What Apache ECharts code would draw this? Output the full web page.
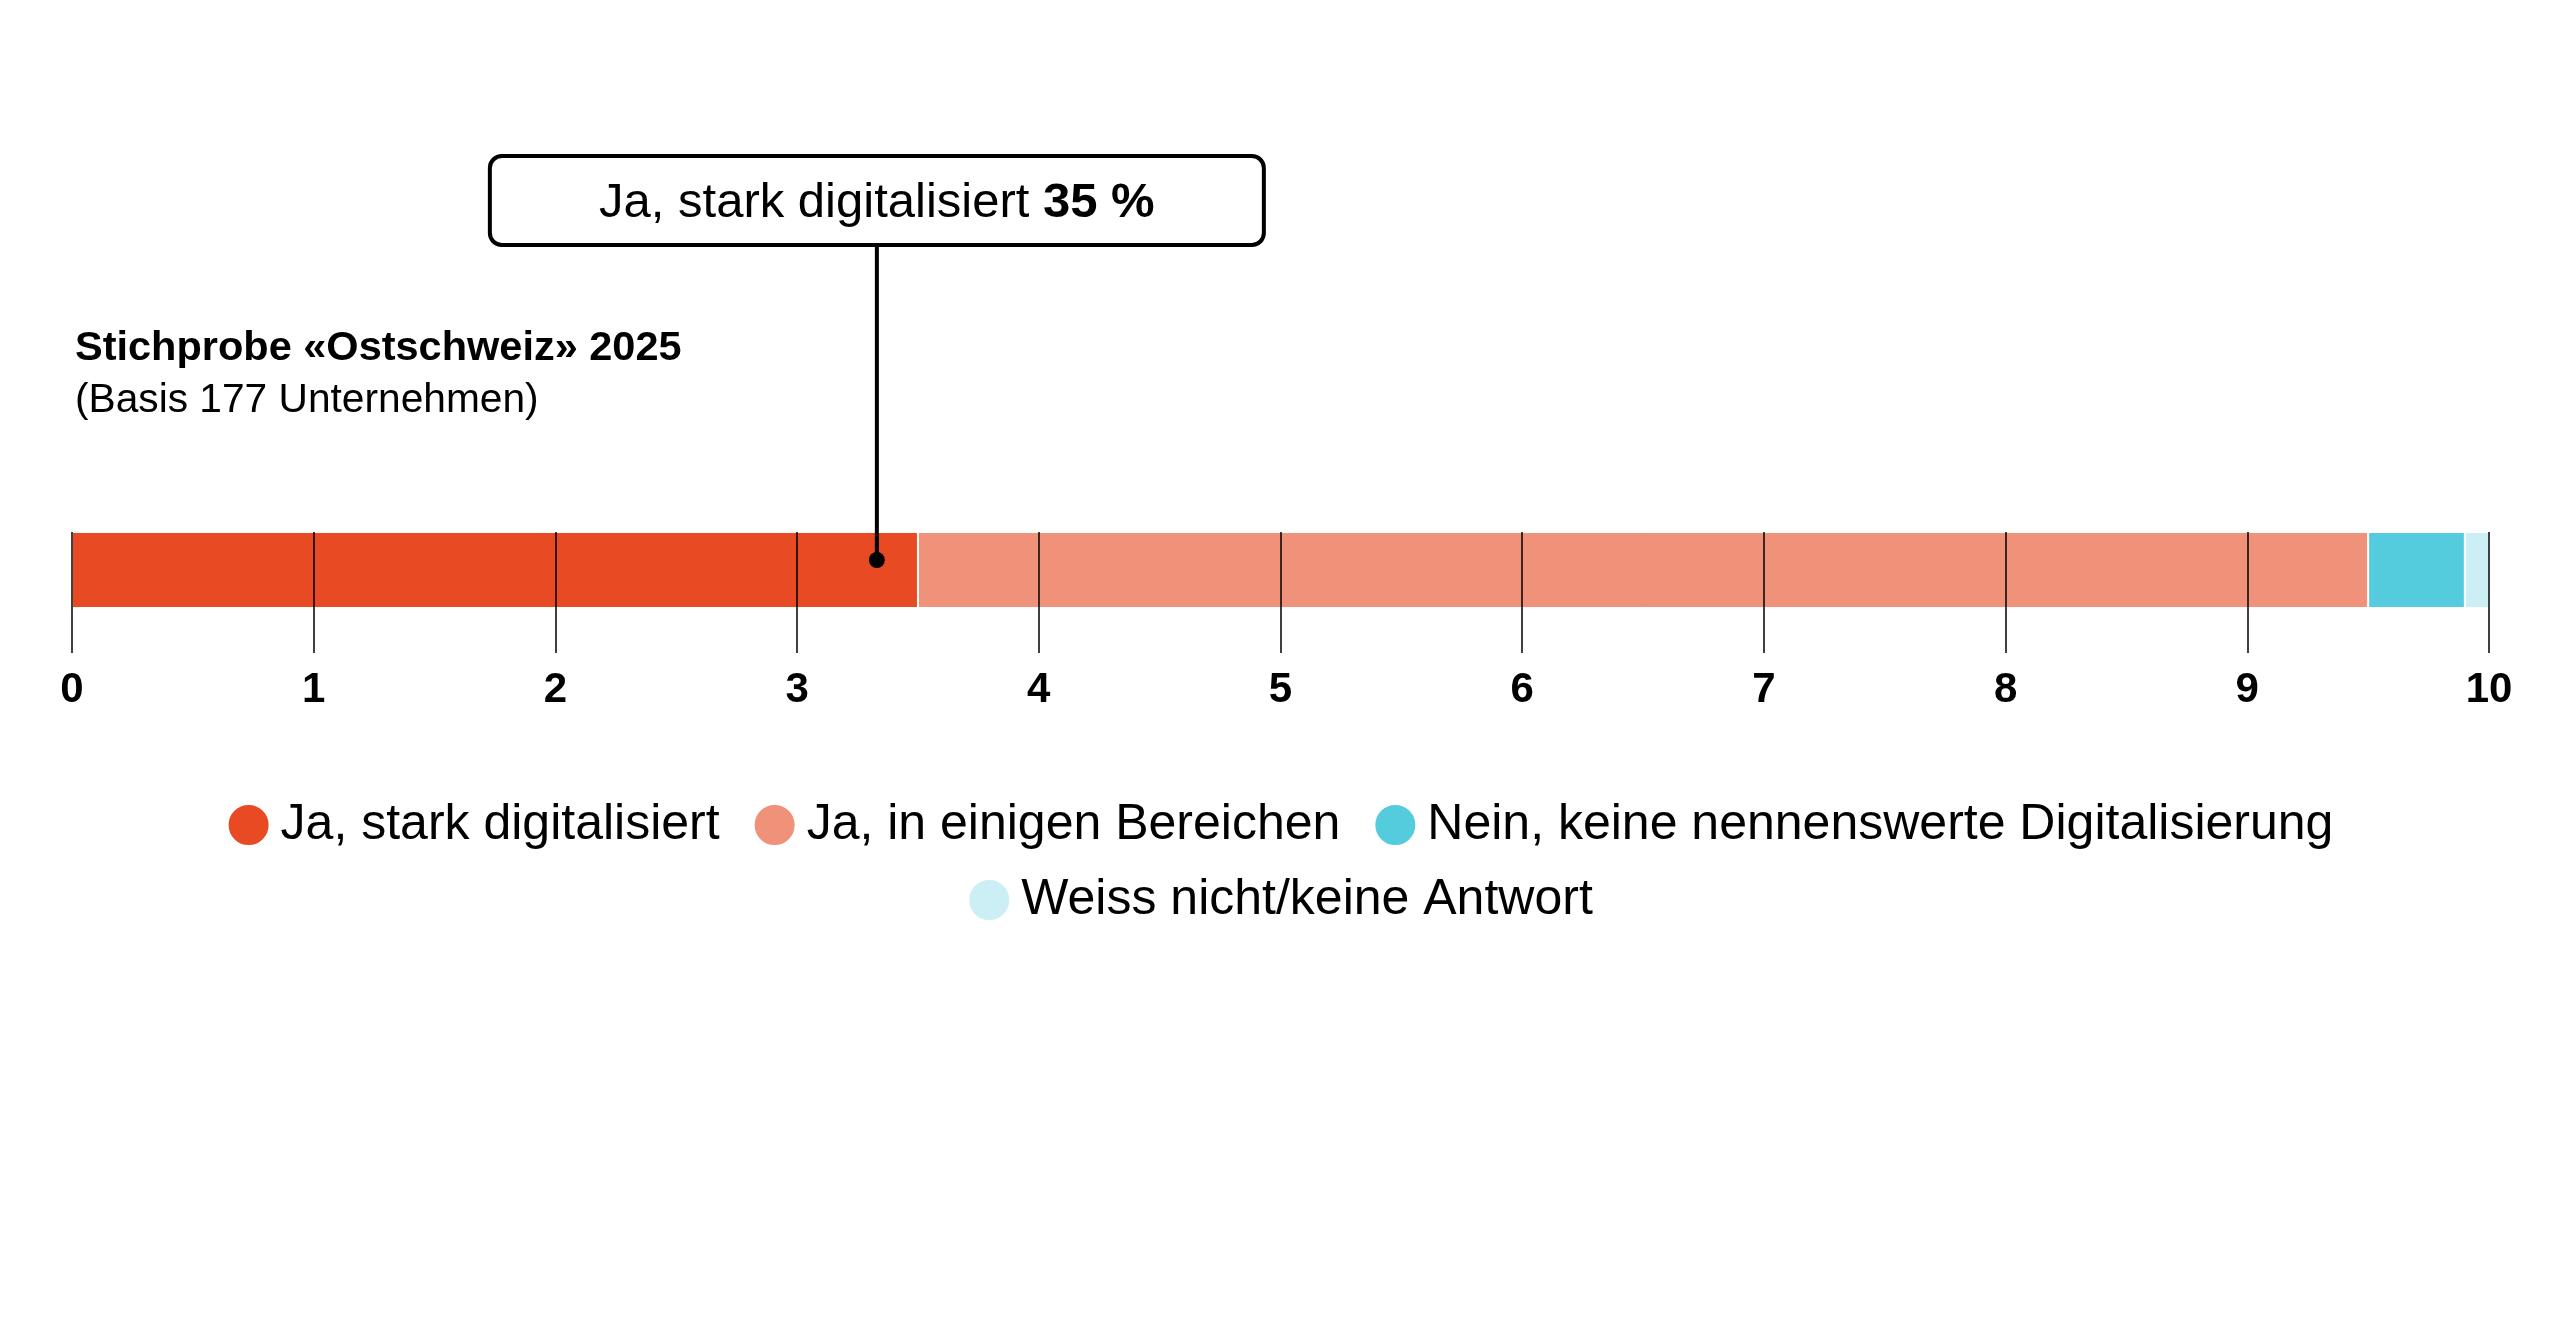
<!DOCTYPE html>
<html>
<head>
<meta charset="utf-8">
<script src="https://cdn.jsdelivr.net/npm/echarts@6/dist/echarts.min.js"></script>
<style>
html,body{margin:0;padding:0;background:#fff;}
#chart{width:2560px;height:1333px;}
</style>
</head>
<body>
<div id="chart"></div>
<script>
// ---- data ----
const categories = ['Ostschweiz 2025'];
const seriesNames = ['Ja, stark digitalisiert', 'Ja, in einigen Bereichen', 'Nein, keine nennenswerte Digitalisierung', 'Weiss nicht/keine Antwort'];
const seriesValues = [3.5, 6.0, 0.4, 0.1];
const seriesColors = ['#E84A23', '#F0927A', '#54CCDE', '#CBEFF4'];
const axisTicks = [0, 1, 2, 3, 4, 5, 6, 7, 8, 9, 10];
const titleText = 'Stichprobe «Ostschweiz» 2025';
const subtitleText = '(Basis 177 Unternehmen)';
const calloutSeries = 0;        // which series the callout describes
const calloutAt = 3.33;         // x position (data units) where the pointer lands
const calloutPercent = 35;

const FONT = "'Liberation Sans', Arial, sans-serif";
const chart = echarts.init(document.getElementById('chart'));

const series = seriesNames.map((name, i) => ({
  name: name,
  type: 'bar',
  stack: 'total',
  barWidth: '100%',
  data: [seriesValues[i]],
  itemStyle: { color: seriesColors[i], borderColor: '#ffffff', borderWidth: 1 },
  emphasis: { disabled: true },
  z: 2
}));

const legendCommon = {
  left: 'center',
  orient: 'horizontal',
  icon: 'circle',
  itemWidth: 42,
  itemHeight: 42,
  itemGap: 33,
  selectedMode: false,
  textStyle: { fontFamily: FONT, fontSize: 50, color: '#000', lineHeight: 42, padding: [0, 0, 0, 6] }
};

chart.setOption({
  animation: false,
  backgroundColor: '#ffffff',
  title: {
    text: titleText,
    subtext: subtitleText,
    left: 75,
    top: 324,
    padding: 0,
    itemGap: 3,
    textStyle: { fontFamily: FONT, fontSize: 41.5, fontWeight: 'bold', color: '#000', lineHeight: 50 },
    subtextStyle: { fontFamily: FONT, fontSize: 40.7, color: '#000', lineHeight: 48 }
  },
  legend: [
    Object.assign({}, legendCommon, { top: 795, data: seriesNames.slice(0, 3) }),
    Object.assign({}, legendCommon, { top: 870, data: seriesNames.slice(3) })
  ],
  grid: { left: 72, right: 71, top: 532, height: 76 },
  xAxis: {
    type: 'value',
    min: axisTicks[0],
    max: axisTicks[axisTicks.length - 1],
    interval: axisTicks[1] - axisTicks[0],
    z: 10,
    axisLine: { show: false },
    axisTick: { show: true, length: 45, lineStyle: { color: '#000', width: 1.5 } },
    splitLine: { show: true, lineStyle: { color: '#000', width: 1.5 } },
    axisLabel: { margin: 61, fontFamily: FONT, fontSize: 42, fontWeight: 'bold', color: '#000' }
  },
  yAxis: { type: 'category', data: categories, show: false },
  series: series
});

// callout anchored to data position
const p = chart.convertToPixel({ xAxisIndex: 0, yAxisIndex: 0 }, [calloutAt, categories[0]]);
const boxW = 774, boxH = 89, boxTop = 156, dotY = p[1] - 10;
chart.setOption({
  graphic: [
    { type: 'line', z: 20, shape: { x1: p[0], y1: boxTop + boxH, x2: p[0], y2: dotY }, style: { stroke: '#000', lineWidth: 4 } },
    { type: 'circle', z: 21, shape: { cx: p[0], cy: dotY, r: 8 }, style: { fill: '#000' } },
    { type: 'rect', z: 20, shape: { x: p[0] - boxW / 2, y: boxTop, width: boxW, height: boxH, r: 12 }, style: { fill: '#fff', stroke: '#000', lineWidth: 4 } },
    { type: 'text', z: 22, style: {
        x: p[0], y: boxTop + boxH / 2 + 3, align: 'center', verticalAlign: 'middle',
        text: '{r|' + seriesNames[calloutSeries] + ' }{b|' + calloutPercent + ' %}',
        rich: {
          r: { fontFamily: FONT, fontSize: 49, color: '#000' },
          b: { fontFamily: FONT, fontSize: 49, fontWeight: 'bold', color: '#000' }
        }
      } }
  ]
});
</script>
</body>
</html>
